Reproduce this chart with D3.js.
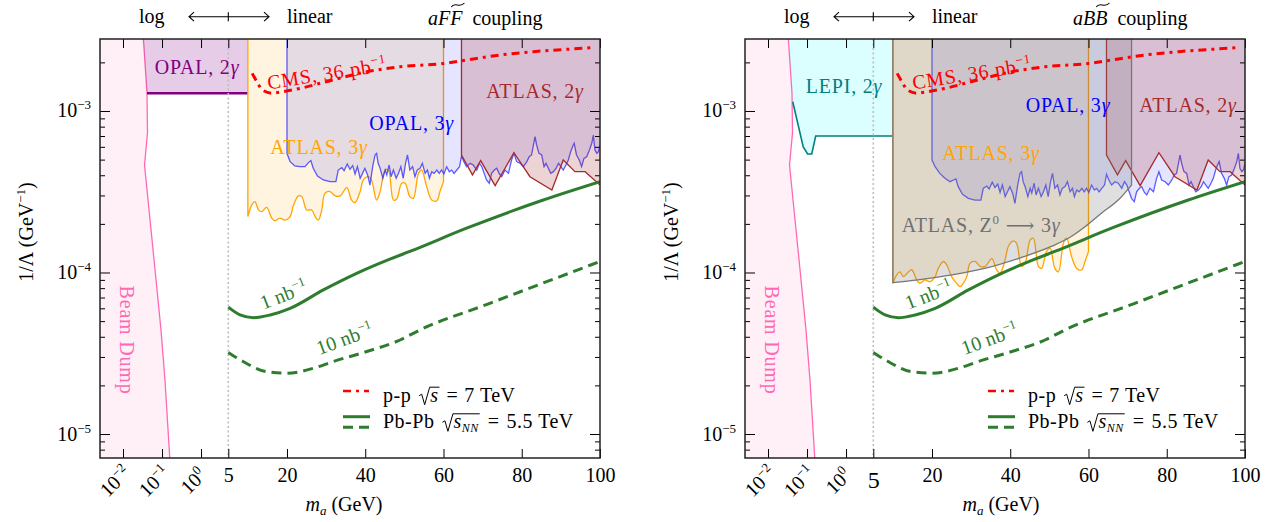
<!DOCTYPE html>
<html>
<head>
<meta charset="utf-8">
<script src="https://cdn.jsdelivr.net/npm/d3@7"></script>
<style>
  body { margin: 0; background: #fff; }
  text { font-family: "Liberation Serif", "DejaVu Serif", serif; }
</style>
</head>
<body>
<svg id="chart" width="1267" height="522"></svg>
<script>
// ---- data (mass in GeV, coupling 1/Lambda in GeV^-1) ----
const beamDumpMass = [0.0326, 0.0412, 0.0424, 0.0356, 0.0438, 0.0662, 0.0942, 0.119, 0.165];
const beamDumpCoupling = [3e-3, 1.29e-3, 7.3e-4, 4.63e-4, 2.81e-4, 1.04e-4, 4.4e-5, 2.16e-5, 6e-6];

const opal2gMass = [0.0412, 10];
const opal2gCoupling = [1.29e-3, 1.29e-3];

const lepiMass = [0.043, 0.080, 0.1036, 0.132, 0.167, 10];
const lepiCoupling = [1.14e-3, 6.0e-4, 5.42e-4, 5.42e-4, 7.0e-4, 7.0e-4];

const atlas3gMass = [10, 11.0, 11.8, 12.7, 13.5, 14.8, 16.1, 16.9, 18.2, 19.5,
  20.8, 21.6, 22.9, 23.8, 25.0, 26.3, 27.2, 28.0, 28.9, 29.7,
  31.0, 32.3, 33.6, 35.3, 36.5, 37.4, 38.7, 39.5, 40.8, 41.6,
  42.9, 43.8, 45.1, 45.9, 47.2, 48.0, 49.3, 50.2, 51.4, 52.3,
  53.6, 54.4, 55.7, 57.0, 58.3, 59.1, 60];
const atlas3gFF = [2.22e-4, 2.62e-4, 2.75e-4, 2.44e-4, 2.38e-4, 2.53e-4, 2.17e-4, 2.09e-4, 2.17e-4, 2.11e-4,
  2.22e-4, 2.58e-4, 2.98e-4, 2.95e-4, 2.44e-4, 2.44e-4, 2.22e-4, 2.11e-4, 2.44e-4, 3.09e-4,
  3.17e-4, 2.98e-4, 2.98e-4, 3.35e-4, 2.81e-4, 2.71e-4, 3.17e-4, 3.74e-4, 3.92e-4, 3.74e-4,
  2.81e-4, 3.17e-4, 4.31e-4, 4.31e-4, 2.81e-4, 2.84e-4, 3.57e-4, 3.57e-4, 2.95e-4, 2.88e-4,
  4.11e-4, 4.31e-4, 3.40e-4, 2.81e-4, 2.78e-4, 3.17e-4, 3.65e-4];
const atlas3gBB = [8.57e-5, 9.66e-5, 1.01e-4, 9.43e-5, 9.79e-5, 1.04e-4, 8.99e-5, 8.57e-5, 8.99e-5, 8.78e-5,
  9.43e-5, 1.06e-4, 1.17e-4, 1.11e-4, 9.43e-5, 8.57e-5, 8.17e-5, 8.57e-5, 9.43e-5, 1.14e-4,
  1.17e-4, 1.09e-4, 1.09e-4, 1.22e-4, 1.04e-4, 9.89e-5, 1.20e-4, 1.45e-4, 1.57e-4, 1.52e-4,
  1.09e-4, 1.14e-4, 1.59e-4, 1.63e-4, 1.09e-4, 1.06e-4, 1.35e-4, 1.41e-4, 1.06e-4, 1.01e-4,
  1.52e-4, 1.63e-4, 1.25e-4, 1.06e-4, 1.04e-4, 1.17e-4, 1.35e-4];

const opal3gMass = [20, 20.8, 22.0, 23.3, 24.6, 25.5, 26.1, 26.7, 27.8, 29.3,
  31.0, 32.5, 33.1, 34.0, 34.6, 35.4, 36.1, 36.8, 37.4, 38.0,
  38.7, 39.3, 39.9, 40.6, 41.2, 41.9, 42.5, 42.9, 43.3, 43.8,
  44.5, 45.1, 45.5, 46.1, 46.6, 47.2, 47.9, 48.5, 49.1, 49.7,
  50.3, 50.8, 51.4, 52.1, 52.7, 53.3, 54.0, 54.6, 55.3, 55.9,
  56.4, 57.0, 57.6, 58.3, 58.9, 59.5, 60.1, 60.8, 61.5, 62.1,
  62.7, 63.4, 64.1, 64.6, 65.2, 65.9, 66.8, 67.6, 68.5, 69.2,
  69.8, 70.4, 71.0, 71.7, 72.3, 73.0, 73.6, 74.3, 74.9, 75.7,
  76.6, 77.4, 78.0, 78.7, 79.6, 80.4, 81.3, 81.9, 82.5, 83.0,
  83.4, 83.8, 84.4, 85.1, 85.7, 86.2, 86.8, 87.4, 88.1, 88.8,
  89.4, 90.0, 90.6, 91.3, 91.9, 92.5, 93.0, 93.4, 94.0, 94.7,
  95.3, 95.9, 96.6, 97.3, 97.9, 98.3, 98.7, 99.2, 99.6, 100];
const opal3gFF = [5.47, 4.86, 4.57, 4.52, 4.52, 4.79, 4.93, 4.42, 3.96, 3.74,
  3.65, 3.65, 4.31, 4.46, 4.27, 4.70, 4.36, 4.59, 4.07, 4.52,
  3.83, 4.11, 4.42, 4.02, 3.48, 4.52, 5.34, 5.47, 4.74, 4.42,
  3.83, 4.31, 4.02, 4.63, 3.92, 4.31, 3.83, 4.11, 4.52, 3.83,
  4.74, 5.34, 4.31, 4.52, 3.92, 4.31, 4.42, 4.74, 4.11, 4.31,
  3.83, 4.21, 4.11, 4.31, 4.11, 4.31, 4.07, 4.52, 4.21, 4.31,
  4.11, 4.31, 4.52, 5.27, 4.86, 4.52, 4.74, 4.63, 4.31, 4.74,
  4.52, 4.11, 3.74, 3.57, 4.11, 4.31, 4.42, 4.07, 3.92, 4.31,
  4.11, 4.97, 5.47, 4.86, 4.74, 4.52, 4.86, 5.21, 5.34, 6.16,
  6.93, 6.16, 5.47, 5.34, 4.52, 4.74, 4.42, 4.11, 4.21, 4.42,
  4.74, 4.52, 4.31, 4.63, 4.97, 5.60, 6.02, 6.31, 5.34, 4.97,
  4.52, 5.09, 5.21, 5.74, 6.31, 7.10, 5.74, 5.47, 5.60, 6.16].map(v => v * 1e-4);
const opal3gBB = [4.97, 4.52, 4.11, 3.83, 3.65, 3.74, 3.80, 3.40, 3.05, 2.88,
  2.81, 2.81, 3.32, 3.43, 3.29, 3.62, 3.36, 3.53, 3.13, 3.48,
  2.95, 3.16, 3.40, 3.10, 2.68, 3.48, 4.11, 4.21, 3.65, 3.40,
  2.95, 3.32, 3.10, 3.57, 3.02, 3.32, 2.95, 3.16, 3.48, 2.95,
  3.65, 4.11, 3.32, 3.48, 3.02, 3.32, 3.40, 3.65, 3.16, 3.32,
  2.95, 3.24, 3.16, 3.32, 3.16, 3.32, 3.13, 3.48, 3.24, 3.32,
  3.16, 3.32, 3.48, 4.06, 3.74, 3.48, 3.65, 3.57, 3.32, 3.65,
  3.48, 3.16, 2.88, 2.75, 3.16, 3.32, 3.40, 3.13, 3.02, 3.32,
  3.16, 3.83, 4.21, 3.74, 3.65, 3.48, 3.74, 4.01, 4.11, 4.74,
  5.34, 4.74, 4.21, 4.11, 3.48, 3.65, 3.40, 3.16, 3.24, 3.40,
  3.65, 3.48, 3.32, 3.57, 3.83, 4.31, 4.64, 4.86, 4.11, 3.83,
  3.48, 3.92, 4.01, 4.42, 4.86, 5.47, 4.42, 4.21, 4.31, 4.74].map(v => v * 1e-4);

const atlas2gMass = [64.6, 67.4, 69.5, 73.2, 78.0, 82.1, 87.7, 90.6, 93.6, 96.2, 100];
const atlas2gCoupling = [5.34e-4, 4.02e-4, 4.93e-4, 3.45e-4, 5.52e-4, 3.92e-4, 3.24e-4, 4.97e-4, 4.21e-4, 4.21e-4, 3.48e-4];

const z0Mass = [10, 16.4, 25.0, 33.5, 42.0, 50.5, 55.6, 59.1, 63.3, 67.6, 71];
const z0Coupling = [8.65e-5, 8.99e-5, 9.66e-5, 1.06e-4, 1.22e-4, 1.45e-4, 1.67e-4, 1.92e-4, 2.33e-4, 2.81e-4, 3.48e-4];

const cmsMass = [11.1, 12.3, 13.7, 16.1, 19.1, 23.3, 31.8, 40.4, 48.9, 60.0, 65.9, 74.4, 83.0, 91.5, 98.5];
const cmsCoupling = [1.71e-3, 1.52e-3, 1.35e-3, 1.29e-3, 1.32e-3, 1.38e-3, 1.56e-3, 1.75e-3, 1.88e-3, 1.97e-3, 2.07e-3, 2.22e-3, 2.33e-3, 2.41e-3, 2.47e-3];

const lumi1Mass = [5, 8.0, 11.4, 15.7, 20.8, 29.3, 37.8, 46.3, 51.4, 65.9, 85.5, 100];
const lumi1Coupling = [6.1e-5, 5.46e-5, 5.25e-5, 5.46e-5, 6.0e-5, 7.8e-5, 9.88e-5, 1.21e-4, 1.35e-4, 1.88e-4, 2.81e-4, 3.65e-4];

const lumi10Mass = [5, 8.8, 14.8, 19.9, 26.7, 31.8, 40.4, 48.9, 54.0, 71.5, 100];
const lumi10Coupling = [3.2e-5, 2.81e-5, 2.43e-5, 2.38e-5, 2.55e-5, 2.81e-5, 3.24e-5, 3.82e-5, 4.41e-5, 6.4e-5, 1.17e-4];

const linTicks = [5, 20, 40, 60, 80, 100];
const logTicks = [0.01, 0.1, 1];
const logTickExp = ["−2", "−1", "0"];
const yTicks = [1e-5, 1e-4, 1e-3];
const yTickExp = ["−5", "−4", "−3"];

// ---- layout ----
const W = 500, H = 419, TOP = 39;
const FS = 20;
const LS = "0.8px";   // CM-like capitals are wider than Times
const xBreak = 128.3;

const logPart = d3.scaleLog().domain([Math.pow(10, -2.59), 5]).range([0, xBreak]);
const linPart = d3.scaleLinear().domain([5, 100]).range([xBreak, W]);
const xs = m => m < 5 ? logPart(m) : linPart(m);
const ys = d3.scaleLog().domain([Math.pow(10, -5.1486), Math.pow(10, -2.5542)]).range([H, 0]);

const svg = d3.select("#chart");
svg.append("rect").attr("width", 1267).attr("height", 522).attr("fill", "#fff");

const zip = (a, b) => a.map((v, i) => [v, b[i]]);
const line = d3.line().x(d => xs(d[0])).y(d => ys(d[1]));

// path that runs from a corner, through the points, to another corner
function edgePath(pts, curve, start, end) {
  let inner = d3.line().x(d => xs(d[0])).y(d => ys(d[1])).curve(curve)(pts);
  let p = inner;
  if (start) p = `M${xs(start[0])},${ys(start[1])}L` + inner.slice(1);
  if (end) p += `L${xs(end[0])},${ys(end[1])}`;
  return p;
}

// text made of pieces: italic, super/subscripts, radicals, tildes
function drawRich(g, x, y, parts, fill) {
  let cx = x;
  for (const p of parts) {
    if (p.gap) { cx += p.gap; continue; }
    if (p.rad) {
      const x0 = cx;
      cx = drawRich(g, cx + 11, y, p.rad, fill);
      g.append("path")
        .attr("d", `M${x0},${y - 6}L${x0 + 2.5},${y - 7.5}L${x0 + 5.5},${y + 3}L${x0 + 10.5},${y - 14.5}L${cx + 1},${y - 14.5}`)
        .attr("fill", "none").attr("stroke", fill).attr("stroke-width", 1);
      cx += 2;
      continue;
    }
    const t = g.append("text")
      .attr("x", cx).attr("y", y + (p.dy || 0))
      .attr("font-size", p.fs || FS)
      .attr("fill", fill)
      .attr("xml:space", "preserve")
      .style("font-style", p.it ? "italic" : "normal")
      .text(p.t);
    const w = t.node().getComputedTextLength();
    if (p.tilde) {
      const a = cx + 1, b = cx + w + 2;
      g.append("path")
        .attr("d", `M${a},${y - 18}C${a + (b - a) * 0.3},${y - 24} ${a + (b - a) * 0.6},${y - 16} ${b},${y - 22}`)
        .attr("fill", "none").attr("stroke", fill).attr("stroke-width", 1.1);
    }
    cx += w;
  }
  return cx;
}

function label(parent, cx, cy, parts, fill, rot = 0, anchor = "middle", ls = null) {
  const g = parent.append("g");
  if (ls) g.style("letter-spacing", ls);
  const w = drawRich(g, 0, 0, parts, fill);
  const sx = anchor === "middle" ? -w / 2 : anchor === "end" ? -w : 0;
  g.attr("transform", `translate(${cx},${cy}) rotate(${rot}) translate(${sx},0)`);
  return g;
}

const gam = n => [{ t: n }, { t: "γ", it: true }];

function drawPanel(cfg) {
  const g = svg.append("g").attr("transform", `translate(${cfg.x0},${TOP})`);
  const clipId = "clip" + cfg.id;
  g.append("clipPath").attr("id", clipId).append("rect").attr("width", W).attr("height", H);
  const plot = g.append("g").attr("clip-path", `url(#${clipId})`);

  // beam dump
  const bd = zip(beamDumpMass, beamDumpCoupling);
  plot.append("path").attr("d", edgePath(bd, d3.curveLinear, [1e-3, 1e-2], [1e-3, 1e-6]) + "Z")
    .attr("fill", "rgba(255,105,180,0.1)");
  plot.append("path").attr("d", line(bd)).attr("fill", "none")
    .attr("stroke", "#ff69b4").attr("stroke-width", 1.3);

  // low-mass 2 gamma bound
  if (cfg.lepi) {
    const lp = zip(lepiMass, lepiCoupling);
    plot.append("path").attr("d", edgePath([[0.0326, 3e-3], [0.0412, 1.29e-3]].concat(lp), d3.curveLinear, null, [10, 1e-2]) + "Z")
      .attr("fill", "rgba(0,255,255,0.14)");
    plot.append("path").attr("d", line(lp)).attr("fill", "none")
      .attr("stroke", "#008080").attr("stroke-width", 1.6);
  } else {
    const op = zip(opal2gMass, opal2gCoupling);
    plot.append("path").attr("d", edgePath([[0.0326, 3e-3]].concat(op), d3.curveLinear, null, [10, 1e-2]) + "Z")
      .attr("fill", "rgba(128,0,128,0.2)");
    plot.append("path").attr("d", line(op)).attr("fill", "none")
      .attr("stroke", "#800080").attr("stroke-width", 2.5);
  }

  // ATLAS 3 gamma
  const a3 = zip(atlas3gMass, cfg.atlas3g);
  const a3p = edgePath(a3, d3.curveCatmullRom, [10, 1e-2], [60, 1e-2]);
  plot.append("path").attr("d", a3p + "Z").attr("fill", "rgba(255,165,0,0.12)");
  plot.append("path").attr("d", a3p).attr("fill", "none").attr("stroke", "#ffa500").attr("stroke-width", 1.3);

  // OPAL 3 gamma
  const o3 = zip(opal3gMass, cfg.opal3g);
  const o3p = edgePath(o3, d3.curveLinear, [20, 1e-2], [100.5, 1e-2]);
  plot.append("path").attr("d", o3p + "Z").attr("fill", "rgba(0,0,255,0.1)");
  plot.append("path").attr("d", edgePath(o3, d3.curveLinear, [20, 1e-2], null)).attr("fill", "none")
    .attr("stroke", "rgba(40,40,255,0.75)").attr("stroke-width", 1.3);

  // ATLAS 2 gamma
  const a2 = zip(atlas2gMass, atlas2gCoupling);
  const a2p = edgePath(a2, d3.curveLinear, [64.6, 1e-2], [100.5, 1e-2]);
  plot.append("path").attr("d", a2p + "Z").attr("fill", "rgba(165,42,42,0.2)");
  plot.append("path").attr("d", edgePath(a2, d3.curveLinear, [64.6, 1e-2], null)).attr("fill", "none")
    .attr("stroke", "#a52a2a").attr("stroke-width", 1.3);

  // ATLAS Z0 -> 3 gamma
  if (cfg.z0) {
    const z = zip(z0Mass, z0Coupling);
    const zp = edgePath(z, d3.curveMonotoneX, [10, 1e-2], [71, 1e-2]);
    plot.append("path").attr("d", zp + "Z").attr("fill", "rgba(128,128,128,0.25)");
    plot.append("path").attr("d", zp).attr("fill", "none").attr("stroke", "#777").attr("stroke-width", 1.3);
  }

  // m = 5 GeV switch
  plot.append("line").attr("x1", xs(5)).attr("x2", xs(5)).attr("y1", 0).attr("y2", H)
    .attr("stroke", "#bdbdbd").attr("stroke-width", 1.6).attr("stroke-dasharray", "2,2.5");

  // projections
  plot.append("path").attr("d", line.curve(d3.curveMonotoneX)(zip(cmsMass, cmsCoupling)))
    .attr("fill", "none").attr("stroke", "#ff0000").attr("stroke-width", 3)
    .attr("stroke-dasharray", "8,5,3,5");
  plot.append("path").attr("d", line.curve(d3.curveMonotoneX)(zip(lumi1Mass, lumi1Coupling)))
    .attr("fill", "none").attr("stroke", "#2e7d2e").attr("stroke-width", 3);
  plot.append("path").attr("d", line.curve(d3.curveMonotoneX)(zip(lumi10Mass, lumi10Coupling)))
    .attr("fill", "none").attr("stroke", "#2e7d2e").attr("stroke-width", 3)
    .attr("stroke-dasharray", "10,6");
  line.curve(d3.curveLinear);

  // region labels
  plot.append("text").attr("transform", "translate(26,301) rotate(90)")
    .attr("text-anchor", "middle").attr("dy", "0.32em").attr("font-size", FS)
    .style("letter-spacing", LS)
    .attr("fill", "#ff69b4").text("Beam Dump");
  if (cfg.lepi) label(plot, 99, 54.3, [{ t: "LEPI, " }].concat(gam("2")), "#008080", 0, "middle", LS);
  else label(plot, 97, 35, [{ t: "OPAL, " }].concat(gam("2")), "#800080", 0, "middle", LS);
  label(plot, cfg.a3Label[0], cfg.a3Label[1], [{ t: "ATLAS, " }].concat(gam("3")), "#ffa500", 0, "middle", LS);
  label(plot, cfg.o3Label[0], cfg.o3Label[1], [{ t: "OPAL, " }].concat(gam("3")), "#0000ff", 0, "middle", LS);
  label(plot, cfg.a2Label[0], cfg.a2Label[1], [{ t: "ATLAS, " }].concat(gam("2")), "#a52a2a", 0, "middle", LS);
  if (cfg.z0) label(plot, 156.7, 192.7, [{ t: "ATLAS, Z" }, { t: "0", fs: 13, dy: -8 }, { t: " ⟶ " }].concat(gam("3")), "#707070", 0, "start", LS);
  label(plot, 228, 41, [{ t: "CMS, 36 pb" }, { t: "−1", fs: 13, dy: -8 }], "#ff0000", -9, "middle", LS);
  label(plot, 186, 262, [{ t: "1 nb" }, { t: "−1", fs: 13, dy: -8 }], "#2e7d2e", -21);
  label(plot, 247, 306, [{ t: "10 nb" }, { t: "−1", fs: 13, dy: -8 }], "#2e7d2e", -20);

  // legend
  const lg = g.append("g").style("letter-spacing", "0.5px");
  lg.append("line").attr("x1", 243).attr("x2", 269).attr("y1", 352).attr("y2", 352)
    .attr("stroke", "#ff0000").attr("stroke-width", 2.5).attr("stroke-dasharray", "8,5,3,5");
  drawRich(lg, 283, 362.7, [{ t: "p-p" }, { gap: 8 }, { rad: [{ t: "s", it: true }] }, { gap: 6 }, { t: "=" }, { gap: 6 }, { t: "7 TeV" }], "#000");
  lg.append("line").attr("x1", 243).attr("x2", 270).attr("y1", 377.7).attr("y2", 377.7)
    .attr("stroke", "#2e7d2e").attr("stroke-width", 3);
  lg.append("line").attr("x1", 243).attr("x2", 270).attr("y1", 388.3).attr("y2", 388.3)
    .attr("stroke", "#2e7d2e").attr("stroke-width", 3).attr("stroke-dasharray", "10,6");
  drawRich(lg, 283, 389.3, [{ t: "Pb-Pb" }, { gap: 8 }, { rad: [{ t: "s", it: true }, { t: "NN", it: true, fs: 12, dy: 4 }] }, { gap: 7 }, { t: "=" }, { gap: 7 }, { t: "5.5 TeV" }], "#000");

  // axes
  const tidy = s => { s.select(".domain").remove(); s.selectAll("line").attr("stroke", "#000").attr("stroke-width", 1); };
  const minor = [];
  [1e-6, 1e-5, 1e-4, 1e-3].forEach(d => d3.range(2, 10).forEach(k => { const v = k * d; if (v > ys.domain()[0] && v < ys.domain()[1]) minor.push(v); }));

  const xb = g.append("g").attr("transform", `translate(0,${H})`);
  xb.append("g").call(d3.axisBottom(linPart).tickValues(linTicks).tickSize(-9).tickFormat(d3.format("d"))).call(tidy)
    .selectAll("text").attr("y", 24).attr("dy", null).attr("font-size", FS).attr("font-family", null)
    .filter(d => d === 5 && cfg.bigFive).attr("font-size", 24).attr("y", 30);
  xb.append("g").call(d3.axisBottom(logPart).tickValues(logTicks).tickSize(-9).tickFormat("")).call(tidy);
  logTicks.forEach((v, i) => {
    label(xb, logPart(v) - 3, 28, [{ t: "10" }, { t: logTickExp[i], fs: 13, dy: -8 }], "#000", -45);
  });
  const xt = g.append("g");
  xt.append("g").call(d3.axisTop(linPart).tickValues(linTicks).tickSize(-9).tickFormat("")).call(tidy);
  xt.append("g").call(d3.axisTop(logPart).tickValues(logTicks).tickSize(-9).tickFormat("")).call(tidy);

  g.append("g").call(d3.axisLeft(ys).tickValues(yTicks).tickSize(-10).tickFormat("")).call(tidy);
  g.append("g").call(d3.axisLeft(ys).tickValues(minor).tickSize(-5).tickFormat("")).call(tidy);
  g.append("g").attr("transform", `translate(${W},0)`).call(d3.axisRight(ys).tickValues(yTicks).tickSize(-10).tickFormat("")).call(tidy);
  g.append("g").attr("transform", `translate(${W},0)`).call(d3.axisRight(ys).tickValues(minor).tickSize(-5).tickFormat("")).call(tidy);
  yTicks.forEach((v, i) => {
    label(g, -9, ys(v) + 6.5, [{ t: "10" }, { t: yTickExp[i], fs: 13, dy: -8 }], "#000", 0, "end");
  });

  g.append("rect").attr("width", W).attr("height", H).attr("fill", "none")
    .attr("stroke", "#222").attr("stroke-width", 1.5);

  // axis titles
  const yl = g.append("g");
  const yw = drawRich(yl, 0, 0, [{ t: "1/Λ (GeV" }, { t: "−1", fs: 13, dy: -8 }, { t: ")" }], "#000");
  yl.attr("transform", `translate(-67,${193 + yw / 2}) rotate(-90)`);
  label(svg, cfg.xlab, 511, [{ t: "m", it: true }, { t: "a", it: true, fs: 13, dy: 4 }, { t: " (GeV)" }], "#000");

  // top annotations
  g.append("text").attr("x", 39).attr("y", -16).attr("font-size", FS).text("log");
  g.append("text").attr("x", 187).attr("y", -16).attr("font-size", FS).text("linear");
  const ay = -22.3;
  g.append("path").attr("d", `M89,${ay}H169M${xBreak},${ay - 4.5}V${ay + 4.5}M94,${ay - 4.5}L89,${ay}L94,${ay + 4.5}M164,${ay - 4.5}L169,${ay}L164,${ay + 4.5}`)
    .attr("fill", "none").attr("stroke", "#000").attr("stroke-width", 1.1);
  drawRich(g, 328, -14, [{ t: "a", it: true }, { t: cfg.field, it: true }, { t: cfg.field, it: true, tilde: true }, { t: "  coupling" }], "#000");
}

drawPanel({ id: "L", x0: 100, lepi: false, z0: false, bigFive: false,
  atlas3g: atlas3gFF, opal3g: opal3gFF,
  a3Label: [219, 115.3], o3Label: [311.7, 91], a2Label: [435, 59.3],
  xlab: 344, field: "F" });
drawPanel({ id: "R", x0: 745, lepi: true, z0: true, bigFive: true,
  atlas3g: atlas3gBB, opal3g: opal3gBB,
  a3Label: [246, 121], o3Label: [323, 72.7], a2Label: [443, 72.7],
  xlab: 1001, field: "B" });
</script>
</body>
</html>
